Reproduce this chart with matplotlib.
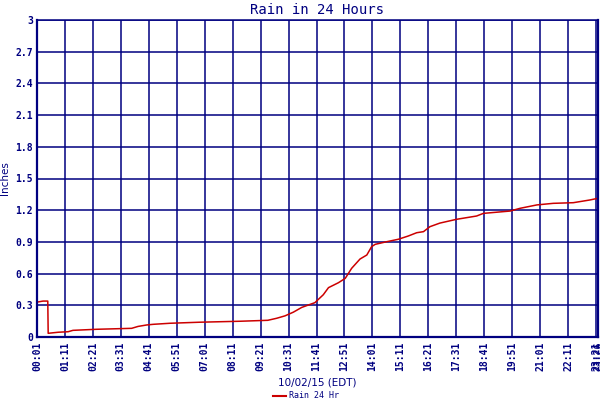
import matplotlib
matplotlib.use("Agg")
import matplotlib.pyplot as plt
from matplotlib.lines import Line2D

# readings, time of day (EDT) and rain total in inches
times = ["00:01", "00:16", "00:28", "00:29", "00:54", "01:19", "01:31", "02:30",
         "03:58", "04:14", "04:36", "04:52", "05:34", "06:49", "08:29", "09:39",
         "10:01", "10:22", "10:43", "11:04", "11:37", "11:58", "12:11", "12:36",
         "12:53", "13:09", "13:30", "13:47", "13:59", "14:08", "14:37", "15:06",
         "15:31", "15:52", "16:09", "16:25", "16:50", "17:32", "18:22", "18:39",
         "19:46", "20:11", "20:53", "21:34", "22:24", "23:06", "23:26"]
rain = [0.33, 0.34, 0.34, 0.035, 0.045, 0.05, 0.063, 0.073,
        0.082, 0.10, 0.114, 0.12, 0.13, 0.14, 0.149, 0.158,
        0.177, 0.20, 0.235, 0.28, 0.325, 0.40, 0.467, 0.514,
        0.555, 0.65, 0.738, 0.776, 0.855, 0.877, 0.902, 0.925,
        0.956, 0.987, 0.997, 1.044, 1.078, 1.114, 1.145, 1.17,
        1.192, 1.218, 1.25, 1.265, 1.271, 1.297, 1.313]

tick_labels = ["00:01", "01:11", "02:21", "03:31", "04:41", "05:51", "07:01",
               "08:11", "09:21", "10:31", "11:41", "12:51", "14:01", "15:11",
               "16:21", "17:31", "18:41", "19:51", "21:01", "22:11", "23:21", "23:26"]
y_ticks = [0, 0.3, 0.6, 0.9, 1.2, 1.5, 1.8, 2.1, 2.4, 2.7, 3]


def to_min(s):
    h, m = s.split(":")
    return int(h) * 60 + int(m)


navy = "#000080"
red = "#cc0000"
mono = "DejaVu Sans Mono"

x = [to_min(t) for t in times]
xt = [to_min(t) for t in tick_labels]

fig = plt.figure(figsize=(6, 4), dpi=100)
ax = fig.add_axes([37/600, 1-337/400, 561/600, 317/400])

ax.plot(x, rain, color=red, lw=1.1)
ax.set_xlim(xt[0], xt[-1])
ax.set_ylim(0, 3)

ax.set_xticks(xt)
ax.set_xticklabels(tick_labels, rotation=90, fontfamily=mono, fontsize=7,
                   fontweight="bold", color=navy)
ax.set_yticks(y_ticks)
ax.set_yticklabels([("%g" % v) for v in y_ticks], fontfamily=mono, fontsize=7,
                   fontweight="bold", color=navy)
ax.tick_params(length=0, pad=3)
ax.grid(True, color=navy, lw=1.1)
ax.set_axisbelow(True)
for side in ["left", "bottom", "right"]:
    ax.spines[side].set_color(navy)
    ax.spines[side].set_linewidth(1.6)
ax.spines["top"].set_color(navy)
ax.spines["top"].set_linewidth(1.1)

ax.set_title("Rain in 24 Hours", color=navy, fontsize=10, fontfamily=mono, pad=4)
ax.set_ylabel("Inches", color=navy, fontsize=7.5, labelpad=4)
ax.set_xlabel("10/02/15 (EDT)", color=navy, fontsize=7.5, labelpad=5)

handle = Line2D([], [], color=red, lw=1.5)
fig.legend([handle], ["Rain 24 Hr"], loc="lower center", bbox_to_anchor=(0.51, -0.02),
           frameon=False, prop={"family": mono, "size": 6}, labelcolor=navy,
           handlelength=1.5, handletextpad=0.4)

fig.savefig("out.png", dpi=100, facecolor="white")
